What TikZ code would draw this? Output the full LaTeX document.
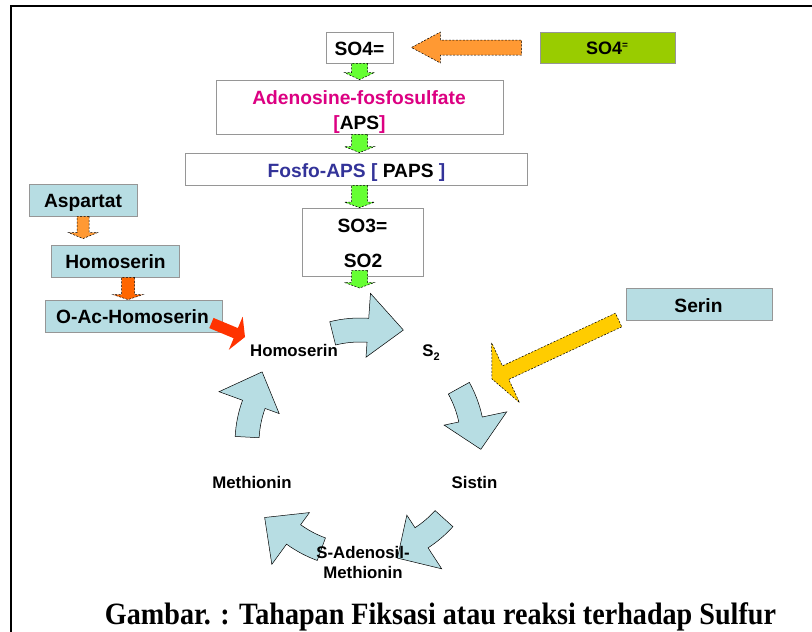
\documentclass[tikz,border=0pt]{standalone}
\usepackage{fontspec}
\setmainfont{Liberation Sans}
\newfontfamily\capfont{Liberation Serif}
\usetikzlibrary{calc}
\definecolor{tealfill}{RGB}{183,221,227}
\definecolor{grn}{RGB}{102,255,51}
\definecolor{org}{RGB}{255,153,51}
\definecolor{dorg}{RGB}{255,102,0}
\definecolor{redo}{RGB}{255,51,0}
\definecolor{yel}{RGB}{255,204,0}
\definecolor{limefill}{RGB}{153,204,0}
\definecolor{mag}{RGB}{220,0,130}
\definecolor{navytext}{RGB}{51,51,153}
\definecolor{boxgray}{RGB}{150,150,150}
\tikzset{
  wbox/.style={draw=boxgray, fill=white, line width=0.8pt, inner sep=0pt},
  tbox/.style={wbox, fill=tealfill},
  lbl/.style={font=\fontsize{19.2}{23}\selectfont\bfseries, inner sep=0pt, anchor=base},
  clbl/.style={font=\fontsize{16.8}{20}\selectfont\bfseries, inner sep=0pt, anchor=base},
  dsh/.style={draw=black, line width=0.5pt, dash pattern=on 2pt off 1.5pt},
  garrow/.style={dsh, fill=grn},
  oarrow/.style={dsh, fill=org},
  doarrow/.style={dsh, fill=dorg},
  rarrow/.style={fill=redo},
  yarrow/.style={dsh, fill=yel},
  cyc/.style={fill=tealfill, draw=black, line width=0.5pt},
}
\newcommand\blockarrow[6]{%
  \coordinate (bah) at ($(#2)!#5!(#1)$);
  \path[#6] ($(#1)!#3!90:(#2)$) -- ($(bah)!#3!90:(#2)$) -- ($(bah)!#4!90:(#2)$)
    -- (#2) -- ($(bah)!#4!-90:(#2)$) -- ($(bah)!#3!-90:(#2)$) -- ($(#1)!#3!-90:(#2)$) -- cycle;}
\newcommand\cycarrow[3]{%
  \draw[cyc] (#1:125) arc[start angle=#1, end angle=#2, radius=125pt] -- (#2:150) -- (#3:121)
    -- (#2:86) -- (#2:101) arc[start angle=#2, end angle=#1, radius=101pt] -- cycle;}
\begin{document}
\begin{tikzpicture}[x=1pt, y=-1pt]
\useasboundingbox (0,0) rectangle (812,632);
\fill[white] (0,0) rectangle (812,632);
\draw[line width=2pt] (812,6) -- (11,6) -- (11,632);

% boxes
\node[wbox, minimum width=67pt, minimum height=31pt] (so4) at (359.5,47.5) {};
\node[wbox, fill=limefill, minimum width=135pt, minimum height=31pt] (so4g) at (607.5,47.5) {};
\node[wbox, minimum width=287pt, minimum height=54pt] (aps) at (359.5,107) {};
\node[wbox, minimum width=342pt, minimum height=32pt] (paps) at (356,169) {};
\node[wbox, minimum width=121pt, minimum height=68pt] (so3) at (362.5,242) {};
\node[tbox, minimum width=108pt, minimum height=32pt] (asp) at (83,200) {};
\node[tbox, minimum width=128pt, minimum height=32pt] (hom) at (115,261) {};
\node[tbox, minimum width=177pt, minimum height=32pt] (oac) at (133.5,316) {};
\node[tbox, minimum width=146pt, minimum height=32pt] (serin) at (699,304) {};

% texts in boxes
\node[lbl] (tso4) at (359.5,55) {SO4=};
\node[lbl, font=\fontsize{18}{22}\selectfont\bfseries] (tso4g) at (607,54.3) {SO4\raisebox{5.6pt}{\fontsize{10}{10}\selectfont=}};
\node[lbl, text=mag] (taps1) at (359,104.3) {Adenosine-fosfosulfate};
\node[lbl, text=mag] (taps2) at (359.5,129.3) {[\textcolor{black}{APS}]};
\node[lbl, text=navytext] (tpaps) at (356.5,177.3) {Fosfo-APS [ \textcolor{black}{PAPS} ]};
\node[lbl] (tso3) at (362.5,232.7) {SO3=};
\node[lbl] (tso2) at (363,267.3) {SO2};
\node[lbl] (tasp) at (83,207) {Aspartat};
\node[lbl] (thom) at (115.5,268) {Homoserin};
\node[lbl] (toac) at (132.5,323) {O-Ac-Homoserin};
\node[lbl] (tserin) at (698.5,312) {Serin};

% straight block arrows
\coordinate (s2in) at (359.5,288);
\coordinate (redtip) at (245,337);
\coordinate (yeltip) at (492,379);
\blockarrow{$(so4g.west)+(-18,0)$}{$(so4.east)+(18,0)$}{7.5pt}{15.5pt}{29pt}{oarrow}
\blockarrow{so4.south}{so4.south|-aps.north}{8pt}{15pt}{7pt}{garrow}
\blockarrow{aps.south}{aps.south|-paps.north}{8pt}{15pt}{6pt}{garrow}
\blockarrow{aps.south|-paps.south}{aps.south|-so3.north}{8pt}{15pt}{5.5pt}{garrow}
\blockarrow{$(aps.south|-so3.south)+(0,-6)$}{s2in}{8pt}{15pt}{5.5pt}{garrow}
\blockarrow{asp.south}{$(asp.south|-hom.north)+(0,-6)$}{6pt}{14.5pt}{6pt}{oarrow}
\blockarrow{$(hom.south)+(13,0)$}{$(oac.north)+(-5.5,0)$}{6.5pt}{15pt}{5pt}{doarrow}
\blockarrow{$(oac.east)+(-11,7)$}{redtip}{5.5pt}{18pt}{10pt}{rarrow}
\blockarrow{$(serin.west)+(-7,16)$}{yeltip}{7.5pt}{33pt}{15pt}{yarrow}

% cycle arrows
\begin{scope}[shift={(360,443)}, y={(0pt,1pt)}]
  \cycarrow{104}{86}{69}
  \cycarrow{29}{12}{-3}
  \cycarrow{-42}{-57}{-72}
  \cycarrow{-110}{-126}{-142}
  \cycarrow{177}{160}{144}
\end{scope}

% cycle labels
\node[clbl] (chom) at (294,356.7) {Homoserin};
\node[clbl] (cs2) at (431,356.7) {S\raisebox{-3.3pt}{\fontsize{11}{11}\selectfont 2}};
\node[clbl] (csis) at (474.5,488.3) {Sistin};
\node[clbl] (cmet) at (252,488) {Methionin};
\node[clbl] (csam1) at (363,558) {S-Adenosil-};
\node[clbl] (csam2) at (363,578) {Methionin};

% caption
\node[font=\capfont\bfseries\fontsize{31}{33}\selectfont, inner sep=0pt, anchor=base] (cap) at (440.5,624) {\resizebox{671pt}{\height}{Gambar. : Tahapan Fiksasi atau reaksi terhadap Sulfur}};
\end{tikzpicture}
\end{document}
